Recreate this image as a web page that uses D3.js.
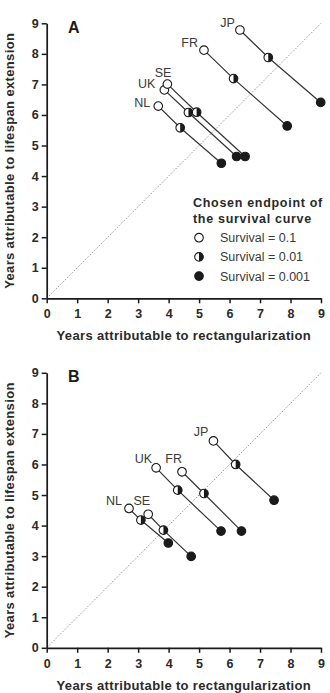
<!DOCTYPE html>
<html><head><meta charset="utf-8">
<script src="https://cdn.jsdelivr.net/npm/d3@7"></script>
<style>body{margin:0;background:#fff}svg{display:block}</style>
</head><body><svg id="c" width="330" height="693"></svg>
<script>
// ---------- DATA ----------
const countries = ["NL", "UK", "SE", "FR", "JP"];
const survivalLevels = ["Survival = 0.1", "Survival = 0.01", "Survival = 0.001"];
const tickValues = [0, 1, 2, 3, 4, 5, 6, 7, 8, 9];
const xTitle = "Years attributable to rectangularization";
const yTitle = "Years attributable to lifespan extension";
const legendTitle = ["Chosen endpoint of", "the survival curve"];
const panelLetters = ["A", "B"];

// Panel A  (x = rectangularization, y = lifespan extension)
const aRect01   = [3.66, 3.86, 3.96, 5.16, 6.34];
const aLife01   = [6.29, 6.82, 7.01, 8.12, 8.78];
const aRect001  = [4.38, 4.65, 4.92, 6.13, 7.27];
const aLife001  = [5.58, 6.08, 6.09, 7.19, 7.88];
const aRect0001 = [5.73, 6.23, 6.51, 7.89, 8.99];
const aLife0001 = [4.42, 4.64, 4.64, 5.64, 6.41];

// Panel B
const bRect01   = [2.70, 3.59, 3.33, 4.44, 5.47];
const bLife01   = [4.56, 5.89, 4.37, 5.76, 6.77];
const bRect001  = [3.09, 4.30, 3.83, 5.16, 6.20];
const bLife001  = [4.18, 5.16, 3.85, 5.05, 6.00];
const bRect0001 = [3.99, 5.72, 4.74, 6.39, 7.46];
const bLife0001 = [3.43, 3.82, 2.99, 3.82, 4.83];

// ---------- LAYOUT ----------
const FONT = "'Liberation Sans', Arial, Helvetica, sans-serif";
const svg = d3.select("#c");
const x = d3.scaleLinear().domain([0, 9]).range([46.7, 321]);

const panels = [
  { top: 23.3, bottom: 298.3, letter: panelLetters[0], legend: true,
    series: [[aRect01, aLife01], [aRect001, aLife001], [aRect0001, aLife0001]],
    labelOff: { NL: [-8, 0.5], UK: [-9, -1.5], SE: [4, -7.5], FR: [-6, -2.8], JP: [-5, -2.8] } },
  { top: 372.8, bottom: 647.8, letter: panelLetters[1], legend: false,
    series: [[bRect01, bLife01], [bRect001, bLife001], [bRect0001, bLife0001]],
    labelOff: { NL: [-7, -3], UK: [-4, -5], SE: [2, -9], FR: [0, -9], JP: [-5, -5] } }
];

const R = 4.3;
const halfArc = d3.arc().innerRadius(0).outerRadius(R).startAngle(0).endAngle(Math.PI);

function marker(g, cx, cy, kind) {
  const m = g.append("g").attr("transform", `translate(${cx},${cy})`);
  m.append("circle").attr("r", R)
    .attr("fill", kind === 2 ? "#1a1a1a" : "#fff")
    .attr("stroke", "#1a1a1a").attr("stroke-width", 1.1);
  if (kind === 1) m.append("path").attr("d", halfArc()).attr("fill", "#1a1a1a");
}

panels.forEach(p => {
  const y = d3.scaleLinear().domain([0, 9]).range([p.bottom, p.top]);
  const g = svg.append("g");

  // diagonal reference line
  g.append("line")
    .attr("x1", x(0)).attr("y1", y(0)).attr("x2", x(9)).attr("y2", y(9))
    .attr("stroke", "#9a9a9a").attr("stroke-width", 1).attr("stroke-dasharray", "1.6,1.6");

  // axes
  const ax = g.append("g").attr("transform", `translate(0,${p.bottom})`)
    .call(d3.axisBottom(x).tickValues(tickValues).tickSize(5).tickSizeOuter(0).tickPadding(6));
  const ay = g.append("g").attr("transform", `translate(${x(0)},0)`)
    .call(d3.axisLeft(y).tickValues(tickValues).tickSize(5).tickSizeOuter(0).tickPadding(3));
  [ax, ay].forEach(a => {
    a.select(".domain").attr("stroke", "#1a1a1a").attr("stroke-width", 1.7);
    a.selectAll(".tick line").attr("stroke", "#1a1a1a").attr("stroke-width", 1.5);
    a.selectAll(".tick text").attr("fill", "#2a2a2a")
      .style("font-family", FONT).style("font-size", "12.5px").style("font-weight", "bold");
  });

  // axis titles
  g.append("text").text(xTitle)
    .attr("x", (x(0) + x(9)) / 2).attr("y", p.bottom + 42)
    .attr("text-anchor", "middle").attr("fill", "#2a2a2a")
    .style("font-family", FONT).style("font-size", "13px").style("font-weight", "bold")
    .style("letter-spacing", "0.35px");
  g.append("text").text(yTitle)
    .attr("transform", `translate(14,${(p.top + p.bottom) / 2}) rotate(-90)`)
    .attr("text-anchor", "middle").attr("fill", "#2a2a2a")
    .style("font-family", FONT).style("font-size", "13px").style("font-weight", "bold")
    .style("letter-spacing", "0.35px");

  // panel letter
  g.append("text").text(p.letter)
    .attr("x", 68).attr("y", p.top + 9.5).attr("fill", "#1a1a1a")
    .style("font-family", FONT).style("font-size", "16px").style("font-weight", "bold");

  // connecting lines
  const [s1, s2, s3] = p.series;
  countries.forEach((c, i) => {
    const pts = [[s1[0][i], s1[1][i]], [s2[0][i], s2[1][i]], [s3[0][i], s3[1][i]]];
    g.append("path")
      .attr("d", d3.line().x(d => x(d[0])).y(d => y(d[1]))(pts))
      .attr("fill", "none").attr("stroke", "#333").attr("stroke-width", 1.2);
  });
  // markers
  p.series.forEach((s, k) => {
    countries.forEach((c, i) => marker(g, x(s[0][i]), y(s[1][i]), k));
  });
  // country labels
  countries.forEach((c, i) => {
    const off = p.labelOff[c];
    g.append("text").text(c)
      .attr("x", x(s1[0][i]) + off[0]).attr("y", y(s1[1][i]) + off[1])
      .attr("text-anchor", "end").attr("fill", "#3a3a3a")
      .style("font-family", FONT).style("font-size", "12.5px");
  });

  // legend
  if (p.legend) {
    const lg = g.append("g");
    legendTitle.forEach((t, j) => {
      lg.append("text").text(t).attr("x", 193).attr("y", 207 + j * 16)
        .attr("fill", "#2a2a2a")
        .style("font-family", FONT).style("font-size", "12.5px").style("font-weight", "bold")
        .style("letter-spacing", "0.7px");
    });
    survivalLevels.forEach((t, k) => {
      const cy = 237.7 + k * 19.2;
      marker(lg, 199, cy, k);
      lg.append("text").text(t).attr("x", 220).attr("y", cy + 4.5)
        .attr("fill", "#3a3a3a")
        .style("font-family", FONT).style("font-size", "12.5px");
    });
  }
});
</script>
</body></html>
